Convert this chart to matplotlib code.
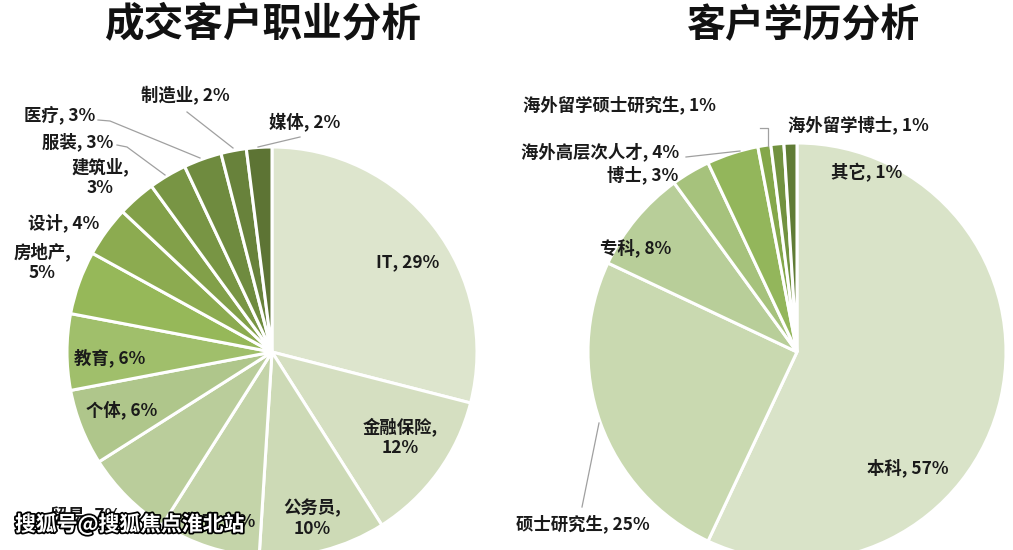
import matplotlib
matplotlib.use("Agg")
import matplotlib.pyplot as plt
import matplotlib.patheffects as pe

plt.rcParams['font.family'] = ['Noto Sans CJK SC', 'DejaVu Sans']

# ---------------- data ----------------
job_labels = ["IT", "金融保险", "公务员", "其它", "贸易", "个体", "教育",
              "房地产", "设计", "建筑业", "服装", "医疗", "制造业", "媒体"]
job_values = [29, 12, 10, 8, 7, 6, 6, 5, 4, 3, 3, 3, 2, 2]

edu_labels = ["本科", "硕士研究生", "专科", "博士", "海外高层次人才",
              "海外留学硕士研究生", "海外留学博士", "其它"]
edu_values = [57, 25, 8, 3, 4, 1, 1, 1]

title_left = "成交客户职业分析"
title_right = "客户学历分析"
watermark = "搜狐号@搜狐焦点淮北站"

# ---------------- style ----------------
job_colors = ["#dde5cd", "#d5dfc1", "#cddab6", "#c4d4a9", "#bacd9b", "#afc68b",
              "#a0bf6b", "#96b859", "#8cab50", "#82a049", "#789544", "#6f8b3f",
              "#68823b", "#5d7434"]
edu_colors = ["#d9e3c8", "#c9d9b0", "#b8ce99", "#a6c27c", "#93b65b",
              "#84a74a", "#729240", "#607c35"]

W, H = 1013, 550
fig = plt.figure(figsize=(W / 100, H / 100), dpi=100)
ax = fig.add_axes([0, 0, 1, 1])

def py(y):
    return H - y

wedgeprops = dict(edgecolor="white", linewidth=2.2)
ax.pie(job_values, colors=job_colors, center=(272, py(352)), radius=205,
       startangle=90, counterclock=False, wedgeprops=wedgeprops)
ax.pie(edu_values, colors=edu_colors, center=(797, py(352)), radius=209,
       startangle=90, counterclock=False, wedgeprops=wedgeprops)

ax.set_xlim(0, W)
ax.set_ylim(0, H)
ax.set_aspect('equal')
ax.axis('off')

fs = 12.5
tk = dict(fontsize=fs, fontweight='bold', color="#1a1a1a", ha='center',
          va='center', linespacing=1.2)

# label layout (pixel positions)
job_pos = [(408, 262), (400, 437), (312, 518), (220, 522), (86, 516),
           (122, 410), (110, 358), (42, 262), (64, 223), (100, 177),
           (78, 142), (60, 115), (185, 95), (305, 122)]
job_two_line = {"金融保险", "公务员", "房地产", "建筑业"}
for lab, v, (x, y) in zip(job_labels, job_values, job_pos):
    sep = ",\n" if lab in job_two_line else ", "
    ax.text(x, py(y), f"{lab}{sep}{v}%", **tk)

edu_pos = [(908, 468), (583, 524), (636, 248), (643, 175), (600, 152),
           (619, 105), (858, 125), (867, 173)]
for lab, v, (x, y) in zip(edu_labels, edu_values, edu_pos):
    ax.text(x, py(y), f"{lab}, {v}%", **tk)

# leader lines
lc = dict(color="#a0a0a0", linewidth=0.9)
leaders = [
    [(98, 120), (110, 121), (200, 158)],
    [(117, 145), (127, 147), (165, 175)],
    [(187, 112), (233, 148)],
    [(300, 137), (258, 147)],
    [(582, 507), (599, 423)],
    [(686, 157), (740, 151)],
    [(760, 128), (768, 128), (768, 146)],
]
for pts in leaders:
    ax.plot([p[0] for p in pts], [py(p[1]) for p in pts], **lc)

# titles
ax.text(263, py(24), title_left, fontsize=28.5, fontweight='bold', ha='center',
        va='center', color="#111111")
ax.text(804, py(26), title_right, fontsize=28, fontweight='bold', ha='center',
        va='center', color="#111111")

# watermark
ax.text(15, py(524), watermark, fontsize=15, fontweight='bold', color='white',
        ha='left', va='center',
        path_effects=[pe.withStroke(linewidth=2.5, foreground='black')])

fig.savefig("out.png", dpi=100)
